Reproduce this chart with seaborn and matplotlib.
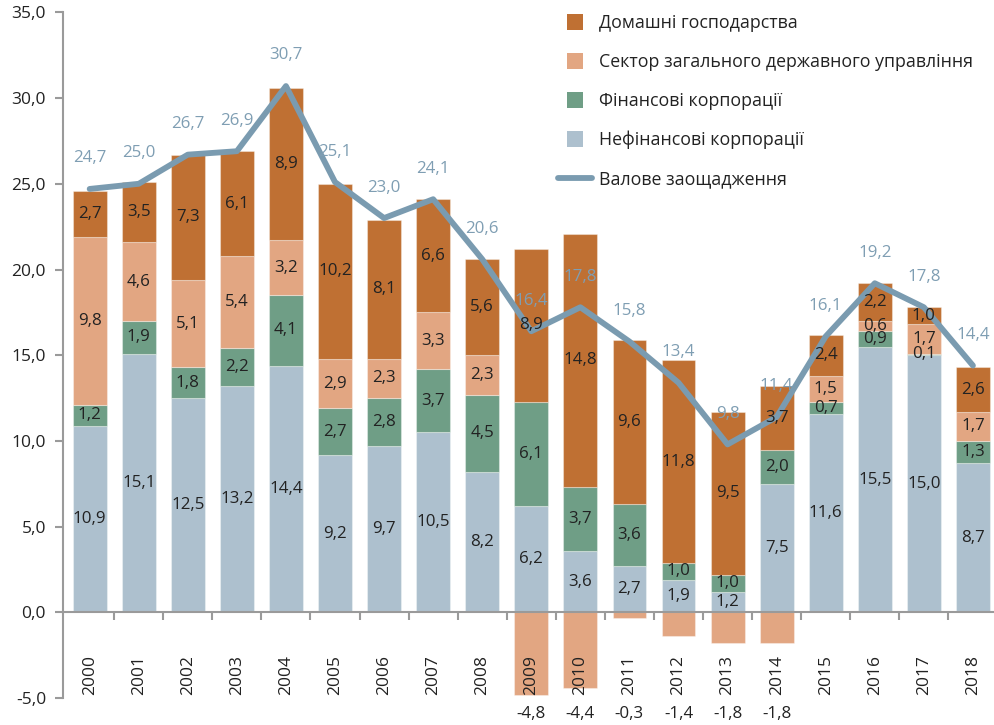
import numpy as np
import pandas as pd
import matplotlib
matplotlib.use("Agg")
import matplotlib.pyplot as plt
import seaborn as sns
from matplotlib.lines import Line2D

years = [str(y) for y in range(2000, 2019)]
nonfin = [10.9, 15.1, 12.5, 13.2, 14.4, 9.2, 9.7, 10.5, 8.2, 6.2, 3.6, 2.7, 1.9, 1.2, 7.5, 11.6, 15.5, 15.0, 8.7]
fin = [1.2, 1.9, 1.8, 2.2, 4.1, 2.7, 2.8, 3.7, 4.5, 6.1, 3.7, 3.6, 1.0, 1.0, 2.0, 0.7, 0.9, 0.1, 1.3]
gov = [9.8, 4.6, 5.1, 5.4, 3.2, 2.9, 2.3, 3.3, 2.3, -4.8, -4.4, -0.3, -1.4, -1.8, -1.8, 1.5, 0.6, 1.7, 1.7]
house = [2.7, 3.5, 7.3, 6.1, 8.9, 10.2, 8.1, 6.6, 5.6, 8.9, 14.8, 9.6, 11.8, 9.5, 3.7, 2.4, 2.2, 1.0, 2.6]
gross = [24.7, 25.0, 26.7, 26.9, 30.7, 25.1, 23.0, 24.1, 20.6, 16.4, 17.8, 15.8, 13.4, 9.8, 11.4, 16.1, 19.2, 17.8, 14.4]

names = ["Домашні господарства", "Сектор загального державного управління",
         "Фінансові корпорації", "Нефінансові корпорації", "Валове заощадження"]

c_house = "#BF7033"
c_gov = "#E2A682"
c_fin = "#6F9E86"
c_nonfin = "#ADC0CE"
c_line = "#7A9BB0"
c_lbl = "#7F9EB3"

sns.set_theme(style="white")
plt.rcParams['font.family'] = ['Open Sans', 'DejaVu Sans']

df = pd.DataFrame({"year": years, "nonfin": nonfin, "fin": fin, "gov": gov,
                   "house": house, "gross": gross})
b_fin = df["nonfin"].values
b_gov = np.where(df["gov"] >= 0, df["nonfin"] + df["fin"], 0.0)
b_house = df["nonfin"].values + df["fin"].values + np.clip(df["gov"].values, 0, None)

fig = plt.figure(figsize=(9.95, 7.25), dpi=100)
ax = fig.add_axes([0.063, 0.037, 0.937, 0.946])

w = 0.69
ekw = dict(edgecolor=(1, 1, 1, 0.35), linewidth=0.8)
sns.barplot(data=df, x="year", y="nonfin", order=years, color=c_nonfin, width=w,
            saturation=1, ax=ax, **ekw)
sns.barplot(data=df, x="year", y="fin", order=years, color=c_fin, width=w,
            saturation=1, bottom=b_fin, ax=ax, **ekw)
sns.barplot(data=df, x="year", y="gov", order=years, color=c_gov, width=w,
            saturation=1, bottom=b_gov, ax=ax, **ekw)
sns.barplot(data=df, x="year", y="house", order=years, color=c_house, width=w,
            saturation=1, bottom=b_house, ax=ax, **ekw)
sns.pointplot(data=df, x="year", y="gross", order=years, color=c_line,
              markers="", linestyles="-", linewidth=4.2, ax=ax)

fmt = lambda v: f"{v:.1f}".replace(".", ",")
fs = 12.2
for i in range(len(years)):
    ax.text(i, nonfin[i] / 2, fmt(nonfin[i]), ha="center", va="center", fontsize=fs, color="#222222")
    ax.text(i, b_fin[i] + fin[i] / 2, fmt(fin[i]), ha="center", va="center", fontsize=fs, color="#222222")
    if gov[i] >= 0:
        ax.text(i, b_gov[i] + gov[i] / 2, fmt(gov[i]), ha="center", va="center", fontsize=fs, color="#222222")
    else:
        ax.text(i, -5.95, fmt(gov[i]), ha="center", va="center", fontsize=fs, color="#222222", clip_on=False)
    ax.text(i, b_house[i] + house[i] / 2, fmt(house[i]), ha="center", va="center", fontsize=fs, color="#222222")
    ax.annotate(fmt(gross[i]), (i, gross[i]), xytext=(0, 22), textcoords="offset points",
                ha="center", va="center", fontsize=fs, color=c_lbl)

ax.set_axisbelow(False)
ax.set_xlim(-0.55, 18.45)
ax.set_ylim(-5, 35)
ax.set_yticks(np.arange(-5, 36, 5))
ax.set_yticklabels([fmt(v) for v in np.arange(-5, 36, 5)], fontsize=12.5, color="#222222")
ax.set_xlabel("")
ax.set_ylabel("")

for s in ["top", "right"]:
    ax.spines[s].set_visible(False)
ax.spines["left"].set_color("#9A9A9A")
ax.spines["left"].set_linewidth(1.5)
ax.spines["bottom"].set_position(("data", 0))
ax.spines["bottom"].set_color("#9A9A9A")
ax.spines["bottom"].set_linewidth(1.5)
ax.tick_params(axis="y", which="major", left=True, length=6, width=1.5, color="#9A9A9A", pad=6)
ax.tick_params(axis="x", which="major", bottom=False, length=0, pad=31)
ax.set_xticks(np.arange(0.5, 18, 1), minor=True)
ax.tick_params(axis="x", which="minor", bottom=True, length=6, width=1.5, color="#9A9A9A", direction="out")
for t in ax.get_xticklabels():
    t.set_rotation(90)
    t.set_fontsize(12.5)
    t.set_color("#222222")
    t.set_va("top")

sq = dict(marker="s", linestyle="none", markersize=11.5, markeredgewidth=0)
handles = [Line2D([0], [0], color=c_house, **sq), Line2D([0], [0], color=c_gov, **sq),
           Line2D([0], [0], color=c_fin, **sq), Line2D([0], [0], color=c_nonfin, **sq),
           Line2D([0], [0], color=c_line, lw=4.2, solid_capstyle="round")]
leg = ax.legend(handles, names, loc="upper left", bbox_to_anchor=(0.526, 1.005), frameon=False,
                fontsize=12.8, handlelength=1.9, labelspacing=1.17,
                handletextpad=0.4, borderaxespad=0.0, borderpad=0.3)
for t in leg.get_texts():
    t.set_color("#222222")

fig.savefig("out.png", dpi=100)
